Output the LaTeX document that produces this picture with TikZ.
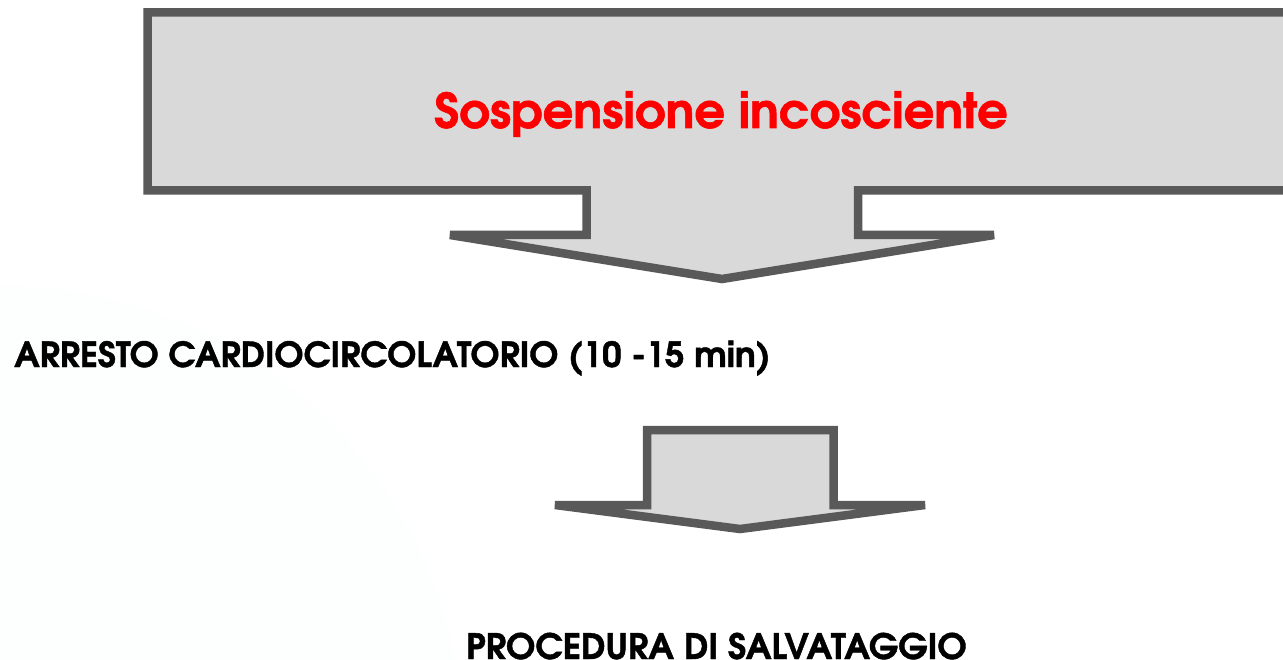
\documentclass[tikz,border=0pt]{standalone}
\usepackage{fontspec}
\setmainfont{texgyreadventor}[Extension=.otf, UprightFont=*-regular, BoldFont=*-bold, ItalicFont=*-italic, BoldItalicFont=*-bolditalic, BoldFeatures={FakeBold=1.2}]
\usetikzlibrary{positioning}
\definecolor{boxgray}{HTML}{D9D9D9}
\definecolor{edgegray}{HTML}{595959}
\definecolor{haze}{HTML}{FDFEFE}

\begin{document}
\begin{tikzpicture}[x=1pt, y=-1pt,
    blockarrow/.style={draw=edgegray, fill=boxgray, line width=8.5pt},
    caption/.style={font=\bfseries\fontsize{35}{40}\selectfont, inner sep=0pt, anchor=base west}]
  \clip (0,0) rectangle (1283,660);
  \fill[white] (0,0) rectangle (1283,660);
  \fill[haze] (0,750) circle (464);

  \draw[blockarrow] (147.5,12.5) -- (1310,12.5) -- (1310,190.5) -- (858,190.5) -- (858,235)
    -- (994,235) -- (722,279) -- (450,235) -- (586.5,235) -- (586.5,190.5) -- (147.5,190.5) -- cycle;

  \draw[blockarrow] (647,430) -- (833.5,430) -- (833.5,505) -- (925,505) -- (740,529)
    -- (555,505) -- (647,505) -- cycle;

  \node[caption, anchor=base, text=red, font=\bfseries\fontsize{48}{56}\selectfont] (susp) at (721,128) {Sospensione incosciente};

  \node[caption, font=\bfseries\fontsize{34.6}{40}\selectfont] (arresto) at (14,367) {ARRESTO CARDIOCIRCOLATORIO (10 -15 min)};

  \node[caption] (proc) at (466,659) {PROCEDURA DI SALVATAGGIO};
\end{tikzpicture}
\end{document}
